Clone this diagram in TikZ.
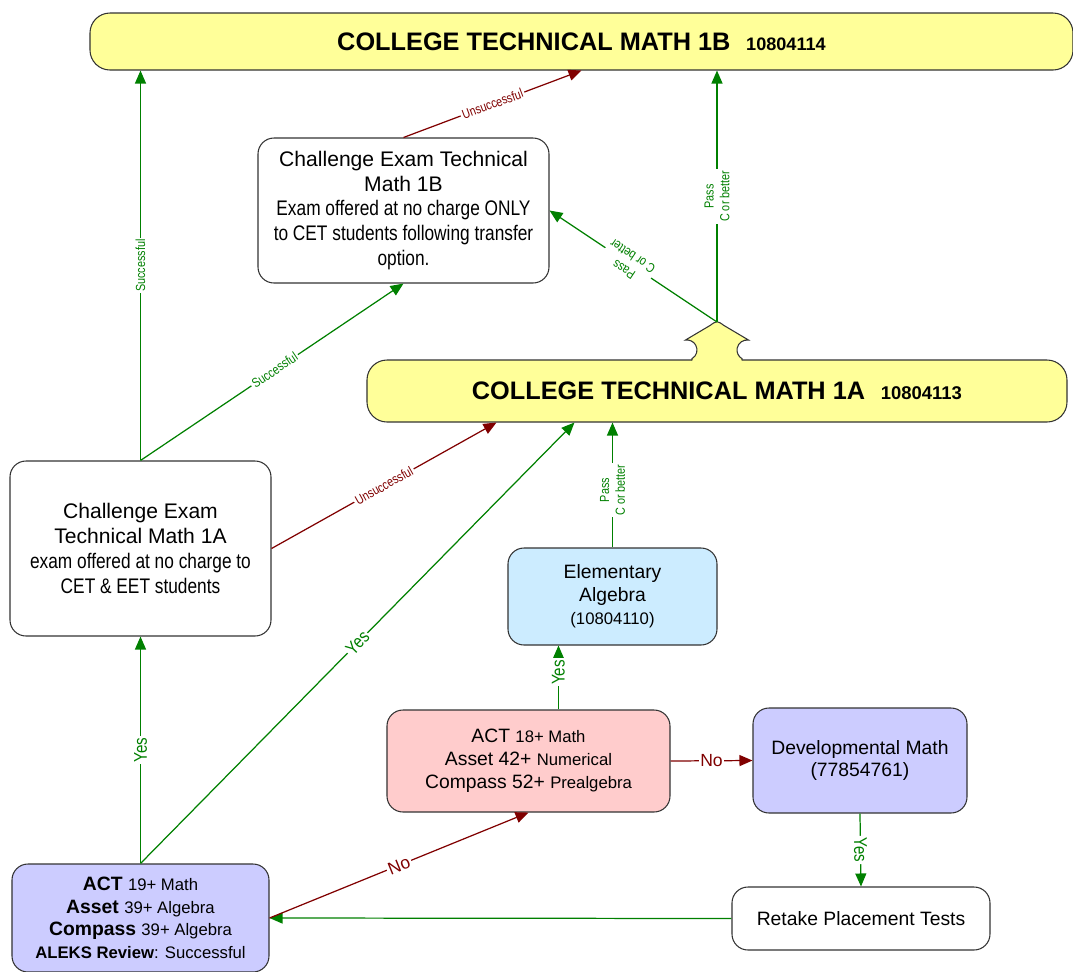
\documentclass[tikz,border=0pt]{standalone}
\usepackage{fontspec}
\setmainfont{Liberation Sans}
\newfontfamily\narrowfont[FakeStretch=0.82]{Liberation Sans}
\usetikzlibrary{arrows.meta,calc}

\definecolor{titleyellow}{RGB}{255,255,153}
\definecolor{algblue}{RGB}{204,236,255}
\definecolor{actpink}{RGB}{255,204,204}
\definecolor{devlilac}{RGB}{204,204,255}
\definecolor{passgreen}{RGB}{0,128,0}
\definecolor{failred}{RGB}{128,0,0}

\newcommand{\smalltxt}[1]{{\fontsize{9.5}{13}\selectfont #1}}

\tikzset{
  box/.style={draw=black!80, line width=0.6pt, rounded corners=3.2mm, align=center, inner sep=2pt},
  titlebox/.style={box, fill=titleyellow, rounded corners=4mm},
  yesline/.style={passgreen, line width=0.7pt, -{Triangle[length=2.6mm,width=2.2mm]}},
  noline/.style={failred, line width=0.7pt, -{Triangle[length=2.6mm,width=2.2mm]}},
  tag/.style={fill=white, inner sep=1pt, align=center, font=\narrowfont\fontsize{7.5}{9}\selectfont},
  yestag/.style={fill=white, inner sep=1pt, font=\narrowfont\fontsize{10.5}{12}\selectfont},
  notag/.style={fill=white, inner sep=1pt, font=\fontsize{10}{12}\selectfont}
}

\begin{document}
\begin{tikzpicture}[x=0.2mm, y=-0.2mm]
\useasboundingbox (0,0) rectangle (1073,972);

% course boxes
\node[titlebox, minimum width=196.6mm, minimum height=11.4mm] (b1B) at (581.5,41.5)
  {{\fontsize{14.4}{17}\selectfont\bfseries COLLEGE TECHNICAL MATH 1B}\hspace{9pt}{\fontsize{10.3}{12}\selectfont\bfseries 10804114}};
\node[titlebox, minimum width=140mm, minimum height=12.4mm] (b1A) at (717,391)
  {{\fontsize{14.4}{17}\selectfont\bfseries COLLEGE TECHNICAL MATH 1A}\hspace{9pt}{\fontsize{10.5}{12}\selectfont\bfseries 10804113}};

% bump on top of 1A
\coordinate (apex) at (717,322);
\fill[titleyellow] (692,362) -- (692,358.66) arc[start angle=60, end angle=-100, radius=10]
  -- (710,325.5) .. controls (717,320.5) .. (724,325.5) -- (748.74,340.15)
  arc[start angle=-80, end angle=-240, radius=10] -- (742,362) -- cycle;
\draw[black!80, line width=0.6pt] (692,360.3) -- (692,358.66) arc[start angle=60, end angle=-100, radius=10]
  -- (710,325.5) .. controls (717,320.5) .. (724,325.5) -- (748.74,340.15)
  arc[start angle=-80, end angle=-240, radius=10] -- (742,360.3);

\node[box, fill=white, minimum width=58.2mm, minimum height=29mm, font=\fontsize{12}{14}\selectfont] (ce1B) at (403.5,210.5)
  {Challenge Exam Technical\\Math 1B\\
   \narrowfont Exam offered at no charge ONLY\\\narrowfont to CET students following transfer\\\narrowfont option.};
\node[box, fill=white, minimum width=52.2mm, minimum height=35mm, font=\fontsize{12}{14.2}\selectfont] (ce1A) at (140.5,548.5)
  {Challenge Exam\\Technical Math 1A\\
   \narrowfont exam offered at no charge to\\\narrowfont CET \& EET students};
\node[box, fill=algblue, minimum width=41.8mm, minimum height=19.4mm, font=\fontsize{11}{13}\selectfont] (elem) at (612.5,596.5)
  {Elementary\\Algebra\\\smalltxt{(10804110)}};
\node[box, fill=actpink, minimum width=56.6mm, minimum height=20.4mm, font=\fontsize{11}{13}\selectfont] (act18) at (528.5,761)
  {ACT \smalltxt{18+ Math}\\Asset 42+ \smalltxt{Numerical}\\Compass 52+ \smalltxt{Prealgebra}};
\node[box, fill=devlilac, minimum width=42.8mm, minimum height=21mm, font=\fontsize{11}{13}\selectfont] (dev) at (860,760.5)
  {Developmental Math\\(77854761)};
\node[box, fill=white, minimum width=51.6mm, minimum height=12.6mm, font=\fontsize{11}{13}\selectfont] (retake) at (861,918.5)
  {Retake Placement Tests};
\node[box, fill=devlilac, minimum width=51.4mm, minimum height=21.6mm, font=\fontsize{11}{12.8}\selectfont] (act19) at (140.5,918)
  {\textbf{ACT} \smalltxt{19+ Math}\\\textbf{Asset} \smalltxt{39+ Algebra}\\
   \textbf{Compass} \smalltxt{39+ Algebra}\\\smalltxt{\textbf{ALEKS Review}: Successful}};

% connectors
\draw[yesline] (ce1A.north) -- node[tag, sloped] {Successful} (ce1A.north |- b1B.south);
\draw[yesline] (ce1A.north) -- node[tag, sloped, pos=0.51] {Successful} (ce1B.south);
\draw[noline] (ce1B.north) -- node[tag, sloped] {Unsuccessful} (b1B.south);
\draw[yesline] (apex) -- node[tag, sloped] {Pass\\C or better} (apex |- b1B.south);
\draw[yesline] (apex) -- node[tag, sloped, allow upside down, pos=0.53] {Pass\\C or better} (ce1B.east);
\draw[noline] (ce1A.east) -- node[tag, sloped] {Unsuccessful} ($(b1A.south west)+(130,0)$);
\draw[yesline] (act19.north) -- node[yestag, sloped] {Yes} (ce1A.south);
\draw[yesline] (act19.north) -- node[yestag, sloped] {Yes} ($(b1A.south west)+(208,0)$);
\draw[yesline] (elem.north) -- node[tag, sloped, pos=0.46] {Pass\\C or better} (elem.north |- b1A.south);
\coordinate (alg) at ($(elem.south west)+(51,0)$);
\draw[yesline] (alg |- act18.north) -- node[yestag, sloped, pos=0.58] {Yes} (alg);
\draw[noline] (act18.east) -- node[notag] {No} (dev.west);
\draw[yesline] (dev.south) -- node[yestag, sloped, allow upside down] {Yes} (retake.north);
\draw[yesline] (retake.west) -- (act19.east);
\draw[noline] (act19.east) -- node[notag, sloped] {No} (act18.south);
\end{tikzpicture}
\end{document}
